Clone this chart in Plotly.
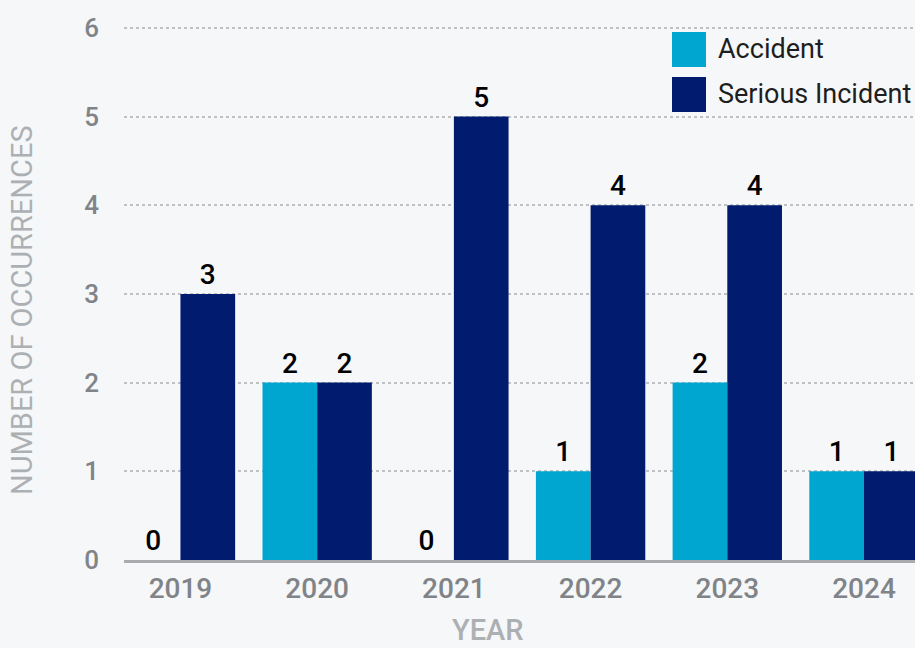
import plotly.graph_objects as go

years = ["2019", "2020", "2021", "2022", "2023", "2024"]
accident = [0, 2, 0, 1, 2, 1]
serious_incident = [3, 2, 5, 4, 4, 1]
series_names = ["Accident", "Serious Incident"]
y_ticks = [0, 1, 2, 3, 4, 5, 6]

ACCIDENT_COLOR = "#00A5D0"
SERIOUS_COLOR = "#011B6F"
BG = "#F6F7F9"
FONT = "Roboto"

W, H = 915, 648
L, R, T, B = 124, 0, 19, 88
pw, ph = W - L - R, H - T - B


def px_x(x):
    return (x - L) / pw


def px_y(y):
    return (H - B - y) / ph


fig = go.Figure()
for name, vals, color in [(series_names[0], accident, ACCIDENT_COLOR),
                          (series_names[1], serious_incident, SERIOUS_COLOR)]:
    fig.add_trace(go.Bar(
        x=years, y=vals, name=name, marker=dict(color=color, line=dict(width=0)),
        text=[str(v) for v in vals], textposition="outside", cliponaxis=False,
        textfont=dict(family=FONT, size=28, color="#000000", weight=500),
        showlegend=False,
    ))

fig.update_layout(
    width=W, height=H,
    margin=dict(l=L, r=R, t=T, b=B),
    paper_bgcolor=BG, plot_bgcolor=BG,
    barmode="group", bargap=0.2, bargroupgap=0,
    font=dict(family=FONT),
    xaxis=dict(
        type="category", range=[-0.413, 5.373],
        showgrid=False, showline=True, linecolor="#A9ABAE", linewidth=3,
        ticks="", tickfont=dict(family=FONT, size=28, color="#808488", weight=500),
        ticklabelstandoff=1,
    ),
    yaxis=dict(
        range=[0, 6.1], tickvals=y_ticks, showline=False, zeroline=False,
        showgrid=True, gridcolor="#BFC1C4", gridwidth=1.5, griddash="dot",
        tickfont=dict(family=FONT, size=26, color="#808488", weight=500),
        ticklabelstandoff=24,
    ),
)

# axis titles
fig.add_annotation(text="YEAR", xref="paper", yref="paper",
                   x=px_x(488), y=px_y(630), xanchor="center", yanchor="middle",
                   showarrow=False,
                   font=dict(family=FONT, size=29, color="#ADB0B3", weight=500))
fig.add_annotation(text="NUMBER OF OCCURRENCES", xref="paper", yref="paper",
                   x=px_x(22), y=px_y(310), xanchor="center", yanchor="middle",
                   showarrow=False, textangle=-90,
                   font=dict(family=FONT, size=29, color="#ADB0B3"))

# legend
for i, (name, color) in enumerate([(series_names[0], ACCIDENT_COLOR),
                                   (series_names[1], SERIOUS_COLOR)]):
    top = 32 + i * 45
    fig.add_shape(type="rect", xref="paper", yref="paper",
                  x0=px_x(672), x1=px_x(706), y0=px_y(top + 35), y1=px_y(top),
                  fillcolor=color, line=dict(width=0))
    fig.add_annotation(text=name, xref="paper", yref="paper",
                       x=px_x(716), y=px_y(top + 17), xanchor="left",
                       yanchor="middle", showarrow=False,
                       font=dict(family=FONT, size=27, color="#1E1E1E"))

fig.write_html("out.html")
